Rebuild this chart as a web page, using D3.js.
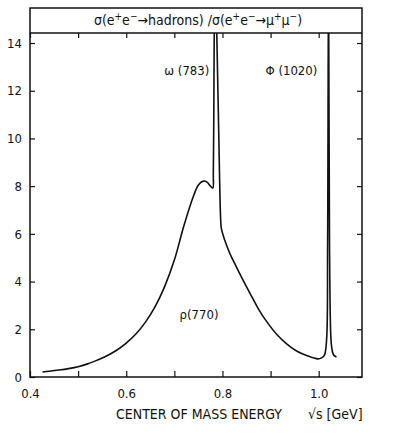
<!DOCTYPE html>
<html>
<head>
<meta charset="utf-8">
<script src="https://cdn.jsdelivr.net/npm/d3@7/dist/d3.min.js"></script>
<style>
  body { margin: 0; background: #fff; }
  svg text { font-family: "DejaVu Sans Condensed", "DejaVu Sans", sans-serif; fill: #111; }
</style>
</head>
<body>
<svg id="chart" width="393" height="436"></svg>
<script>
// R ratio vs centre of mass energy (GeV)
var energy = [0.426, 0.44, 0.46, 0.48, 0.50, 0.52, 0.54, 0.56, 0.58, 0.60, 0.62, 0.64, 0.66, 0.68,
              0.70, 0.72, 0.74, 0.75, 0.76, 0.768, 0.775, 0.780,
              0.781, 0.782, 0.783, 0.785, 0.788, 0.792, 0.7965, 0.798,
              0.814, 0.822, 0.839, 0.857, 0.874, 0.892, 0.913, 0.934, 0.955, 0.975, 0.998,
              1.006, 1.012, 1.0165, 1.0185, 1.0205, 1.0225, 1.025, 1.027, 1.031, 1.037];
var ratio = [0.21, 0.24, 0.29, 0.35, 0.43, 0.55, 0.71, 0.89, 1.12, 1.42, 1.80, 2.30, 2.95, 3.8,
             4.9, 6.35, 7.6, 8.05, 8.21, 8.17, 8.0, 7.92,
             8.5, 11, 14.6, 17, 14.6, 10.5, 6.5, 6.2,
             5.24, 4.9, 4.21, 3.52, 2.88, 2.32, 1.78, 1.38, 1.08, 0.9, 0.76,
             0.8, 0.92, 1.6, 5.5, 17, 5.5, 1.8, 1.25, 0.92, 0.84];

var xTicks = [0.4, 0.5, 0.6, 0.7, 0.8, 0.9, 1.0];
var xLabels = [0.4, 0.6, 0.8, 1.0];
var yTicks = [0, 2, 4, 6, 8, 10, 12, 14];

var resonances = [
  { name: "\u03c9 (783)", e: 0.783, r: 12.65, anchor: "end", dx: -5 },
  { name: "\u03a6 (1020)", e: 1.02, r: 12.65, anchor: "end", dx: -11 },
  { name: "\u03c1(770)", e: 0.77, r: 2.45, anchor: "middle", dx: -9 }
];

var svg = d3.select("#chart");
// plot box edges (note: "top" is reserved on window, so use other names)
var pLeft = 30, pRight = 362, pTop = 33, pBottom = 377, boxTop = 8;

var x = d3.scaleLinear().domain([0.4, 1.09]).range([pLeft, pRight]);
var y = d3.scaleLinear().domain([0, 14.42]).range([pBottom, pTop]);

// clip for the spikes that run off the top
svg.append("defs").append("clipPath").attr("id", "plotclip")
  .append("rect").attr("x", pLeft).attr("y", pTop).attr("width", pRight - pLeft).attr("height", pBottom - pTop);

// axes, all ticks pointing inward
var gx = svg.append("g").attr("transform", "translate(0," + pBottom + ")")
  .call(d3.axisBottom(x).tickValues(xTicks).tickSizeInner(-6).tickSizeOuter(0).tickPadding(12)
    .tickFormat(function(d) { return xLabels.some(function(v) { return Math.abs(v - d) < 1e-9; }) ? d3.format(".1f")(d) : ""; }));
svg.append("g").attr("transform", "translate(0," + pTop + ")")
  .call(d3.axisTop(x).tickValues(xTicks).tickSizeInner(-5).tickSizeOuter(0).tickFormat(""));
var gy = svg.append("g").attr("transform", "translate(" + pLeft + ",0)")
  .call(d3.axisLeft(y).tickValues(yTicks).tickSizeInner(-5).tickSizeOuter(0).tickPadding(8));
svg.append("g").attr("transform", "translate(" + pRight + ",0)")
  .call(d3.axisRight(y).tickValues(yTicks).tickSizeInner(-5).tickSizeOuter(0).tickFormat(""));

svg.selectAll(".domain").remove();
svg.selectAll(".tick line").attr("stroke", "#111").attr("stroke-width", 1.2);
svg.selectAll(".tick text").style("font-size", "13px").attr("fill", "#111");
gx.selectAll(".tick text").attr("dy", "0.71em");

// frame with title box
svg.append("rect").attr("x", pLeft).attr("y", boxTop).attr("width", pRight - pLeft).attr("height", pBottom - boxTop)
  .attr("fill", "none").attr("stroke", "#111").attr("stroke-width", 1.5);
svg.append("line").attr("x1", pLeft).attr("x2", pRight).attr("y1", pTop).attr("y2", pTop)
  .attr("stroke", "#111").attr("stroke-width", 1.5);

// title with superscripts
var title = svg.append("text").attr("x", 198).attr("y", 25)
  .attr("text-anchor", "middle").style("font-size", "14px");
var parts = [["\u03c3(e", 0], ["+", 1], ["e", 0], ["\u2212", 1], ["\u2192hadrons) /\u03c3(e", 0], ["+", 1], ["e", 0], ["\u2212", 1],
             ["\u2192\u03bc", 0], ["+", 1], ["\u03bc", 0], ["\u2212", 1], [")", 0]];
parts.forEach(function(p) {
  var t = title.append("tspan").text(p[0]);
  if (p[1]) t.attr("baseline-shift", "super").style("font-size", "10px");
});

// curve
var line = d3.line()
  .x(function(d, i) { return x(energy[i]); })
  .y(function(d) { return y(d); })
  .curve(d3.curveCatmullRom.alpha(0.5));
svg.append("path").datum(ratio)
  .attr("clip-path", "url(#plotclip)")
  .attr("d", line)
  .attr("fill", "none").attr("stroke", "#111").attr("stroke-width", 1.6).attr("stroke-linejoin", "round");

// resonance labels
svg.selectAll(".res").data(resonances).enter().append("text")
  .attr("class", "res")
  .attr("x", function(d) { return x(d.e) + d.dx; })
  .attr("y", function(d) { return y(d.r); })
  .attr("text-anchor", function(d) { return d.anchor; })
  .style("font-size", "13px")
  .text(function(d) { return d.name; });

// axis title
svg.append("text").attr("x", 116).attr("y", 419).style("font-size", "14px")
  .text("CENTER OF MASS ENERGY");
svg.append("text").attr("x", 308).attr("y", 419).style("font-size", "14px")
  .text("\u221as [GeV]");
</script>
</body>
</html>
